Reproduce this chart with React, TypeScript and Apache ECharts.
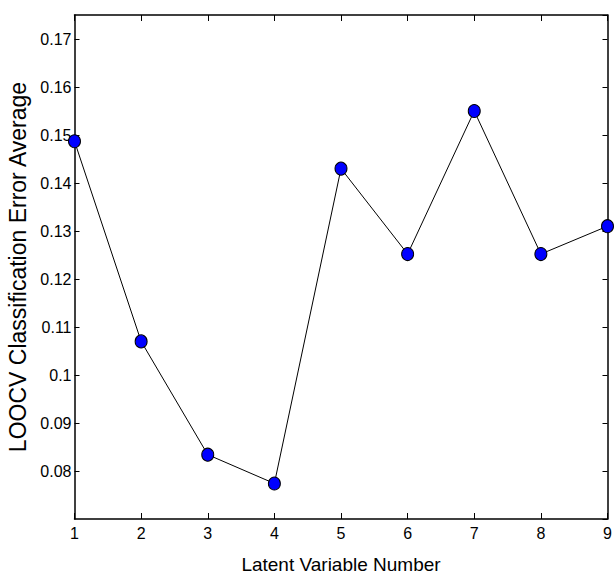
import React, { useEffect, useRef } from "react";
import * as echarts from "echarts";

const latentVariables = [1, 2, 3, 4, 5, 6, 7, 8, 9];
const errorAverage = [0.1487, 0.107, 0.0834, 0.0774, 0.143, 0.1252, 0.155, 0.1252, 0.131];
const xTitle = "Latent Variable Number";
const yTitle = "LOOCV Classification Error Average";

const FONT = "'Liberation Sans', Arial, sans-serif";

export default function App() {
  const ref = useRef<HTMLDivElement>(null);
  useEffect(() => {
    if (!ref.current) return;
    const chart = echarts.init(ref.current, undefined, { renderer: "svg" });
    const axisLine = { show: true, onZero: false, lineStyle: { color: "#000", width: 1.5 } };
    const xCommon = { type: "value", min: 1, max: 9, interval: 1, splitLine: { show: false } };
    const yCommon = { type: "value", min: 0.07, max: 0.175, interval: 0.01, splitLine: { show: false } };
    chart.setOption({
      animation: false,
      backgroundColor: "#fff",
      textStyle: { fontFamily: FONT },
      grid: { left: 74.5, top: 15, right: 7.5, bottom: 55, containLabel: false, outerBoundsMode: "none" },
      xAxis: [
        {
          ...xCommon,
          position: "bottom",
          axisLine,
          axisTick: { show: true, inside: true, length: 6, lineStyle: { color: "#000", width: 1 } },
          axisLabel: { color: "#000", fontSize: 16, fontFamily: FONT, margin: 6 },
          name: xTitle,
          nameLocation: "middle",
          nameGap: 36,
          nameTextStyle: { color: "#000", fontSize: 19, fontFamily: FONT },
        },
        {
          ...xCommon,
          position: "top",
          axisLine,
          axisTick: { show: true, inside: true, length: 6, lineStyle: { color: "#000", width: 1 } },
          axisLabel: { show: false },
        },
      ],
      yAxis: [
        {
          ...yCommon,
          position: "left",
          axisLine,
          axisTick: { show: true, inside: true, length: 5, lineStyle: { color: "#000", width: 1 } },
          axisLabel: {
            color: "#000",
            fontSize: 16,
            fontFamily: FONT,
            margin: 3,
            showMinLabel: false,
            showMaxLabel: false,
            formatter: (v: number) => String(parseFloat(v.toFixed(3))),
          },
          name: yTitle,
          nameLocation: "middle",
          nameGap: 42,
          nameTextStyle: { color: "#000", fontSize: 23, fontFamily: FONT },
        },
        {
          ...yCommon,
          position: "right",
          axisLine,
          axisTick: { show: true, inside: true, length: 5, lineStyle: { color: "#000", width: 1 } },
          axisLabel: { show: false },
        },
      ],
      series: [
        {
          type: "line",
          xAxisIndex: 0,
          yAxisIndex: 0,
          data: latentVariables.map((x, i) => [x, errorAverage[i]]),
          clip: false,
          symbol: "circle",
          symbolSize: [12, 13],
          lineStyle: { color: "#000", width: 1 },
          itemStyle: { color: "#0000ff", borderColor: "#000", borderWidth: 1 },
        },
      ],
    });
    return () => chart.dispose();
  }, []);
  return <div ref={ref} style={{ width: 615, height: 574, position: "absolute", left: 0, top: 0 }} />;
}
